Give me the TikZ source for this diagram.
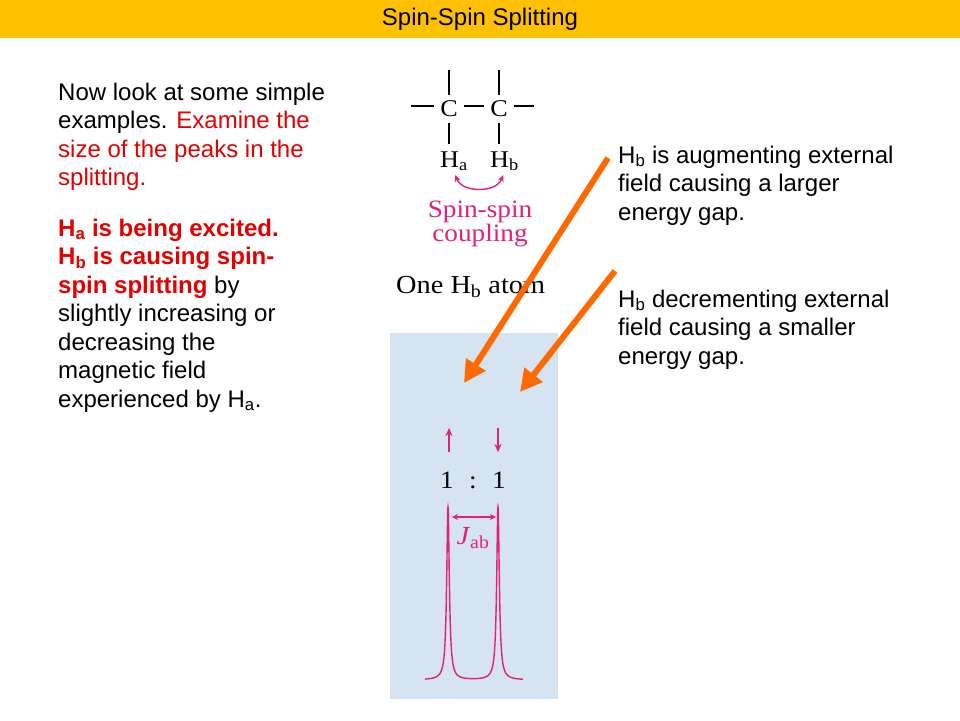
\documentclass[tikz,border=0pt]{standalone}
\usepackage{fontspec}
\setmainfont{Liberation Sans}
\newfontfamily\figserif[FakeStretch=1.09]{Liberation Serif}
\usepackage{xcolor}
\definecolor{HeaderGold}{HTML}{FFC000}
\definecolor{AlertRed}{HTML}{E30000}
\definecolor{CouplingPink}{HTML}{E4207A}
\definecolor{PanelBlue}{HTML}{D6E3F1}
\definecolor{PointerOrange}{HTML}{FF6A00}
\usepackage{tikz}
\usetikzlibrary{arrows.meta, positioning, calc}

\begin{document}
\begin{tikzpicture}[
  x=1pt, y=-1pt,
  slidetext/.style={anchor=north west, inner sep=0pt, align=left, font=\fontsize{24}{28.5}\selectfont},
  atomC/.style={inner sep=6pt, font=\figserif\fontsize{24}{24}\selectfont},
  atomH/.style={anchor=base west, inner sep=0pt, font=\figserif\fontsize{24}{24}\selectfont},
  figtext/.style={inner sep=0pt, font=\figserif\fontsize{25}{22}\selectfont},
  bond/.style={line width=1.2pt, black},
  pinkline/.style={line width=1.4pt, CouplingPink},
  pinkarrow/.style={pinkline, -{Stealth[length=8pt,width=7pt]}},
  pointer/.style={-{Triangle[length=22pt,width=22pt]}, line width=6pt, PointerOrange}
]
  \useasboundingbox[fill=white] (0,0) rectangle (960,720);

  % header
  \fill[HeaderGold] (0,0) rectangle (960,38);
  \node[font=\fontsize{24}{24}\selectfont] (title) at (480,19) {Spin-Spin Splitting};

  % left text
  \node[slidetext] (intro) at (58,82.5) {Now look at some simple\\
    examples. \textcolor{AlertRed}{Examine the}\\
    \textcolor{AlertRed}{size of the peaks in the}\\
    \textcolor{AlertRed}{splitting.}\\[22pt]
    \textcolor{AlertRed}{\bfseries H\textsubscript{a} is being excited.}\\
    \textcolor{AlertRed}{\bfseries H\textsubscript{b} is causing spin-}\\
    \textcolor{AlertRed}{\bfseries spin splitting} by\\
    slightly increasing or\\
    decreasing the\\
    magnetic field\\
    experienced by H\textsubscript{a}.};

  % right text
  \node[slidetext] (aug) at (618,145.5) {H\textsubscript{b} is augmenting external\\
    field causing a larger\\
    energy gap.};
  \node[slidetext] (dec) at (618,289.5) {H\textsubscript{b} decrementing external\\
    field causing a smaller\\
    energy gap.};

  % molecule
  \node[atomC] (c1) at (449,109) {C};
  \node[atomC] (c2) at (499,109) {C};
  \node[atomH] (ha) at (440,167) {H\textsubscript{a}};
  \node[atomH] (hb) at (490,167) {H\textsubscript{b}};
  \coordinate (c1top) at (449,70);
  \coordinate (c2top) at (499,70);
  \coordinate (c1left) at (411,106);
  \coordinate (c2right) at (534,106);
  \draw[bond] (c1.north) -- (c1top);
  \draw[bond] (c2.north) -- (c2top);
  \draw[bond] (c1left) -- (c1.west |- c1left);
  \draw[bond] (c1.east |- c1left) -- (c2.west |- c1left);
  \draw[bond] (c2.east |- c2right) -- (c2right);
  \draw[bond, shorten >=7pt] (c1.south) -- (c1.south |- ha.north);
  \draw[bond, shorten >=7pt] (c2.south) -- (c2.south |- hb.north);
  \draw[pinkline, {Stealth[length=7pt,width=6pt]}-{Stealth[length=7pt,width=6pt]}, shorten <=4pt, shorten >=4pt]
    (ha.south) .. controls +(8,22) and +(-8,22) .. (hb.south);
  \node[figtext, align=center, text=CouplingPink] (coupling) at (480,224) {Spin-spin\\coupling};
  \node[figtext, font=\figserif\fontsize{26}{26}\selectfont, anchor=base west] (oneHb) at (396,293) {One H\textsubscript{b} atom};

  % spectrum panel
  \node[fill=PanelBlue, anchor=north west, inner sep=0pt, minimum width=168pt, minimum height=366pt] (panel) at (390,333) {};
  \coordinate (upA) at (449,452);
  \coordinate (upB) at (449,428);
  \coordinate (downA) at (498,428);
  \coordinate (downB) at (498,452);
  \draw[pinkarrow] (upA) -- (upB);
  \draw[pinkarrow] (downA) -- (downB);
  \node[figtext, anchor=base] (r1) at (447,488) {1};
  \node[figtext, anchor=base] (colon) at (473,488) {:};
  \node[figtext, anchor=base] (r2) at (499,488) {1};
  \coordinate (jl) at (452,517);
  \coordinate (jr) at (496,517);
  \draw[pinkline, {Stealth[length=6pt,width=6pt]}-{Stealth[length=6pt,width=6pt]}] (jl) -- (jr);
  \node[figtext, font=\figserif\fontsize{26}{26}\selectfont, text=CouplingPink] (jab) at (473,538) {\textit{J}\textsubscript{ab}};
  \draw[pinkline] plot[domain=425:523, samples=981] (\x, {680 - 173*(2.5/((\x-448)^2+2.5) + 2.5/((\x-498)^2+2.5))});

  % pointers
  \coordinate (augStart) at (608,158);
  \coordinate (augTip) at (464,383);
  \coordinate (decStart) at (615,271);
  \coordinate (decTip) at (520,392);
  \draw[pointer] (augStart) -- (augTip);
  \draw[pointer] (decStart) -- (decTip);
\end{tikzpicture}
\end{document}
